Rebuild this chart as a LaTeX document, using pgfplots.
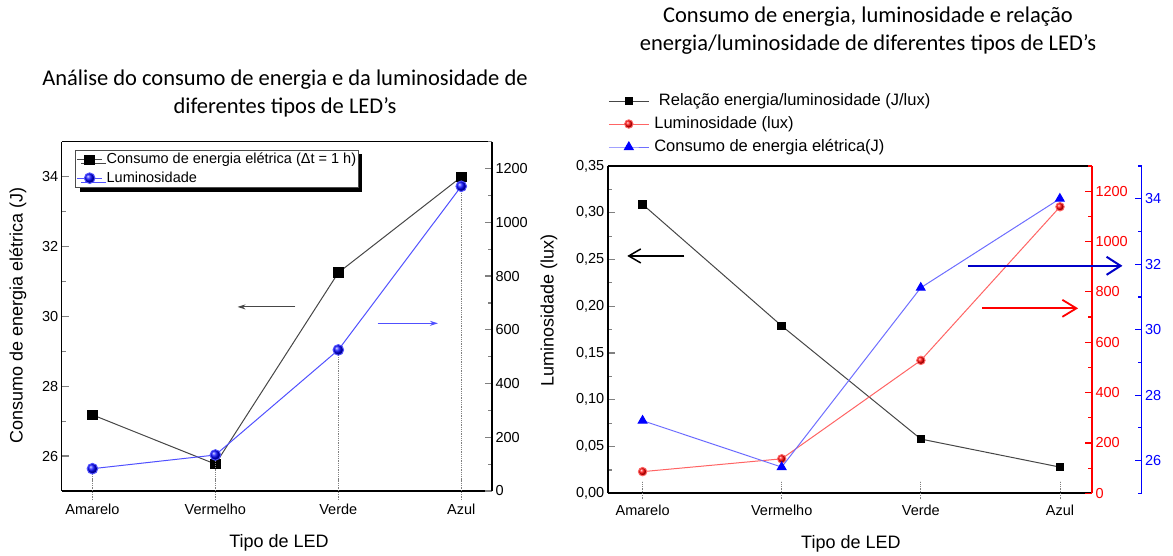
\documentclass[border=0pt]{standalone}
\usepackage{fontspec}
\setmainfont{Liberation Sans}
\newfontfamily\titlefont{Carlito}
\usepackage{pgfplots}
\pgfplotsset{compat=1.18}
\usetikzlibrary{shadows,arrows.meta}

\definecolor{lumblue}{RGB}{80,80,255}
\definecolor{lineblue}{RGB}{110,110,255}
\definecolor{linered}{RGB}{255,100,100}
\definecolor{darkline}{RGB}{70,70,70}
\definecolor{arrowblue}{RGB}{0,0,200}

\pgfplotsset{
  base/.style={
    scale only axis,
    anchor=south west,
    xmin=-0.25,
    /pgf/number format/assume math mode=true,
    /pgf/number format/1000 sep={},
    tick label style={font=\fontsize{14.5}{17}\selectfont},
    label style={font=\fontsize{18}{21}\selectfont},
    axis line style={line width=1.6pt},
    tick style={line width=1.2pt},
    major tick length=7pt,
    minor tick length=4pt,
    tick align=inside,
    clip=false,
  },
}

\begin{document}
\begin{tikzpicture}
\useasboundingbox (0,0) rectangle (1173pt,556pt);

% ---------- titles ----------
\node[font=\titlefont\fontsize{22.5}{28}\selectfont, align=center] at (285pt,462pt)
  {Análise do consumo de energia e da luminosidade de\\diferentes tipos de LED’s};
\node[font=\titlefont\fontsize{22.5}{28}\selectfont, align=center] at (868pt,525pt)
  {Consumo de energia, luminosidade e relação\\energia/luminosidade de diferentes tipos de LED’s};

% ================= LEFT PANEL =================
\begin{axis}[base,
  at={(61.7pt,65pt)}, width=430.3pt, height=349.3pt,
  xmax=3.25, ymin=25, ymax=35,
  axis y line*=left,
  xtick={0,1,2,3}, xticklabels={Amarelo,Vermelho,Verde,Azul},
  xtick pos=left, xtick style={draw=none},
  xticklabel style={yshift=-9pt},
  ytick={26,28,30,32,34}, minor ytick={25,27,29,31,33,35},
  xlabel={Tipo de LED}, ylabel={Consumo de energia elétrica (J)},
  xlabel style={at={(axis description cs:0.505,-0.149)}, anchor=center},
  ylabel style={at={(axis description cs:-0.1016,0.502)}, anchor=center},
]
\addplot[darkline, line width=1pt, mark=square*, mark size=4.8pt, mark options={black, solid}]
  coordinates {(0,27.18) (1,25.77) (2,31.25) (3,33.99)};
\draw[darkline, line width=1pt, -{Stealth[length=8pt,width=5pt]}] (axis cs:1.65,30.27) -- (axis cs:1.18,30.27);
\draw[lumblue, line width=1pt, -{Stealth[length=8pt,width=5pt]}] (axis cs:2.32,29.8) -- (axis cs:2.81,29.8);
\pgfplotsinvokeforeach{0,1,2,3}{\draw[densely dotted, gray, line width=0.8pt] ([yshift=-9pt]axis cs:#1,25) -- ([yshift=11pt]axis cs:#1,25);}
\end{axis}

\begin{axis}[base,
  at={(61.7pt,65pt)}, width=430.3pt, height=349.3pt,
  xmax=3.25, ymin=0, ymax=1300,
  axis y line*=right, axis x line=none,
  ytick={0,200,400,600,800,1000,1200}, minor ytick={100,300,500,700,900,1100,1300},
  legend style={at={(axis description cs:0.0318,0.976)}, anchor=north west,
    font=\fontsize{14.5}{16}\selectfont, draw=gray!60!black, line width=0.6pt, fill=white,
    drop shadow={shadow xshift=4pt, shadow yshift=-4pt, opacity=1, fill=black},
    inner xsep=1pt, inner ysep=1.5pt, row sep=2.3pt,
    nodes={inner sep=1pt, text height=11pt, text depth=3pt},
    /tikz/every odd column/.append style={column sep=3pt},
    legend cell align=left},
  legend image code/.code={\draw[mark repeat=2,mark phase=2,#1] plot coordinates {(0pt,0pt) (12.5pt,0pt) (25pt,0pt)};},
]
\addplot[ycomb, densely dotted, gray, line width=0.8pt, forget plot]
  coordinates {(0,83) (1,134) (2,525) (3,1134)};
\addlegendimage{darkline, line width=1pt, mark=square*, mark size=4.8pt, mark options={black, solid}}
\addlegendentry{Consumo de energia elétrica (Δt = 1 h)}
\addplot[lumblue, line width=1pt, mark=ball, mark size=5.3pt, mark options={ball color=blue}]
  coordinates {(0,83) (1,134) (2,525) (3,1134)};
\addlegendentry{Luminosidade}
\end{axis}

% ================= RIGHT PANEL =================
\begin{axis}[base,
  at={(607.8pt,62.7pt)}, width=484.2pt, height=327.3pt,
  xmax=3.23, ymin=0, ymax=0.35,
  axis y line*=left,
  xtick={0,1,2,3}, xticklabels={Amarelo,Vermelho,Verde,Azul},
  xtick pos=left, xtick style={draw=none},
  xticklabel style={yshift=-8pt},
  ytick={0,0.05,0.1,0.15,0.2,0.25,0.3,0.35},
  minor ytick={0.025,0.075,0.125,0.175,0.225,0.275,0.325},
  yticklabel style={/pgf/number format/.cd, fixed, fixed zerofill, precision=2, use comma},
  xlabel={Tipo de LED}, ylabel={Luminosidade (lux)},
  xlabel style={at={(axis description cs:0.502,-0.153)}, anchor=center},
  ylabel style={at={(axis description cs:-0.1214,0.56)}, anchor=center},
]
\addplot[darkline, line width=1pt, mark=square*, mark size=3.8pt, mark options={black, solid}]
  coordinates {(0,0.309) (1,0.179) (2,0.058) (3,0.028)};
\draw[black, line width=1.5pt, -{Straight Barb[length=12pt,width=14pt]}] (axis cs:0.30,0.2538) -- (axis cs:-0.11,0.2538);
\draw[red, line width=1.8pt, -{Straight Barb[length=14pt,width=17pt]}] (axis cs:2.44,0.1978) -- (axis cs:3.13,0.1978);
\pgfplotsinvokeforeach{0,1,2,3}{\draw[densely dotted, gray, line width=0.8pt] ([yshift=-6pt]axis cs:#1,0) -- ([yshift=12pt]axis cs:#1,0);}
\end{axis}

\begin{axis}[base,
  at={(607.8pt,62.7pt)}, width=484.2pt, height=327.3pt,
  xmax=3.23, ymin=0, ymax=1300,
  axis y line*=right, axis x line=none,
  y axis line style={red},
  ytick style={red}, yticklabel style={red},
  ytick={0,200,400,600,800,1000,1200}, minor ytick={100,300,500,700,900,1100,1300},
]
\addplot[linered, line width=1pt, mark=ball, mark size=4.2pt, mark options={ball color=red}]
  coordinates {(0,86) (1,137) (2,528) (3,1138)};
\end{axis}

\begin{axis}[base,
  at={(607.8pt,62.7pt)}, width=533.7pt, height=327.3pt,
  xmax=3.587, ymin=25, ymax=35,
  axis y line*=right, axis x line=none,
  y axis line style={blue},
  ytick style={blue}, yticklabel style={blue},
  ytick={26,28,30,32,34}, minor ytick={25,27,29,31,33,35},
  legend style={at={(axis description cs:-0.005,1.232)}, anchor=north west, draw=none, fill=none,
    font=\fontsize{16.5}{19}\selectfont, legend cell align=left,
    nodes={inner sep=1pt, text height=12pt, text depth=3.5pt}, row sep=5.5pt,
    /tikz/every odd column/.append style={column sep=4pt}},
  legend image code/.code={\draw[mark repeat=2,mark phase=2,#1] plot coordinates {(0pt,0pt) (20pt,0pt) (40pt,0pt)};},
]
\addlegendimage{darkline, line width=1pt, mark=square*, mark size=3.8pt, mark options={black, solid}}
\addlegendentry{\ Relação energia/luminosidade (J/lux)}
\addlegendimage{linered, line width=1pt, mark=ball, mark size=4.2pt, mark options={ball color=red}}
\addlegendentry{Luminosidade (lux)}
\addplot[lineblue, line width=1pt, mark=triangle*, mark size=5pt, mark options={blue, solid}]
  coordinates {(0,27.22) (1,25.8) (2,31.28) (3,34.0)};
\addlegendentry{Consumo de energia elétrica(J)}
\draw[arrowblue, line width=2pt, -{Straight Barb[length=14pt,width=18pt]}] (axis cs:2.337,31.95) -- (axis cs:3.45,31.95);
\end{axis}
\end{tikzpicture}
\end{document}
